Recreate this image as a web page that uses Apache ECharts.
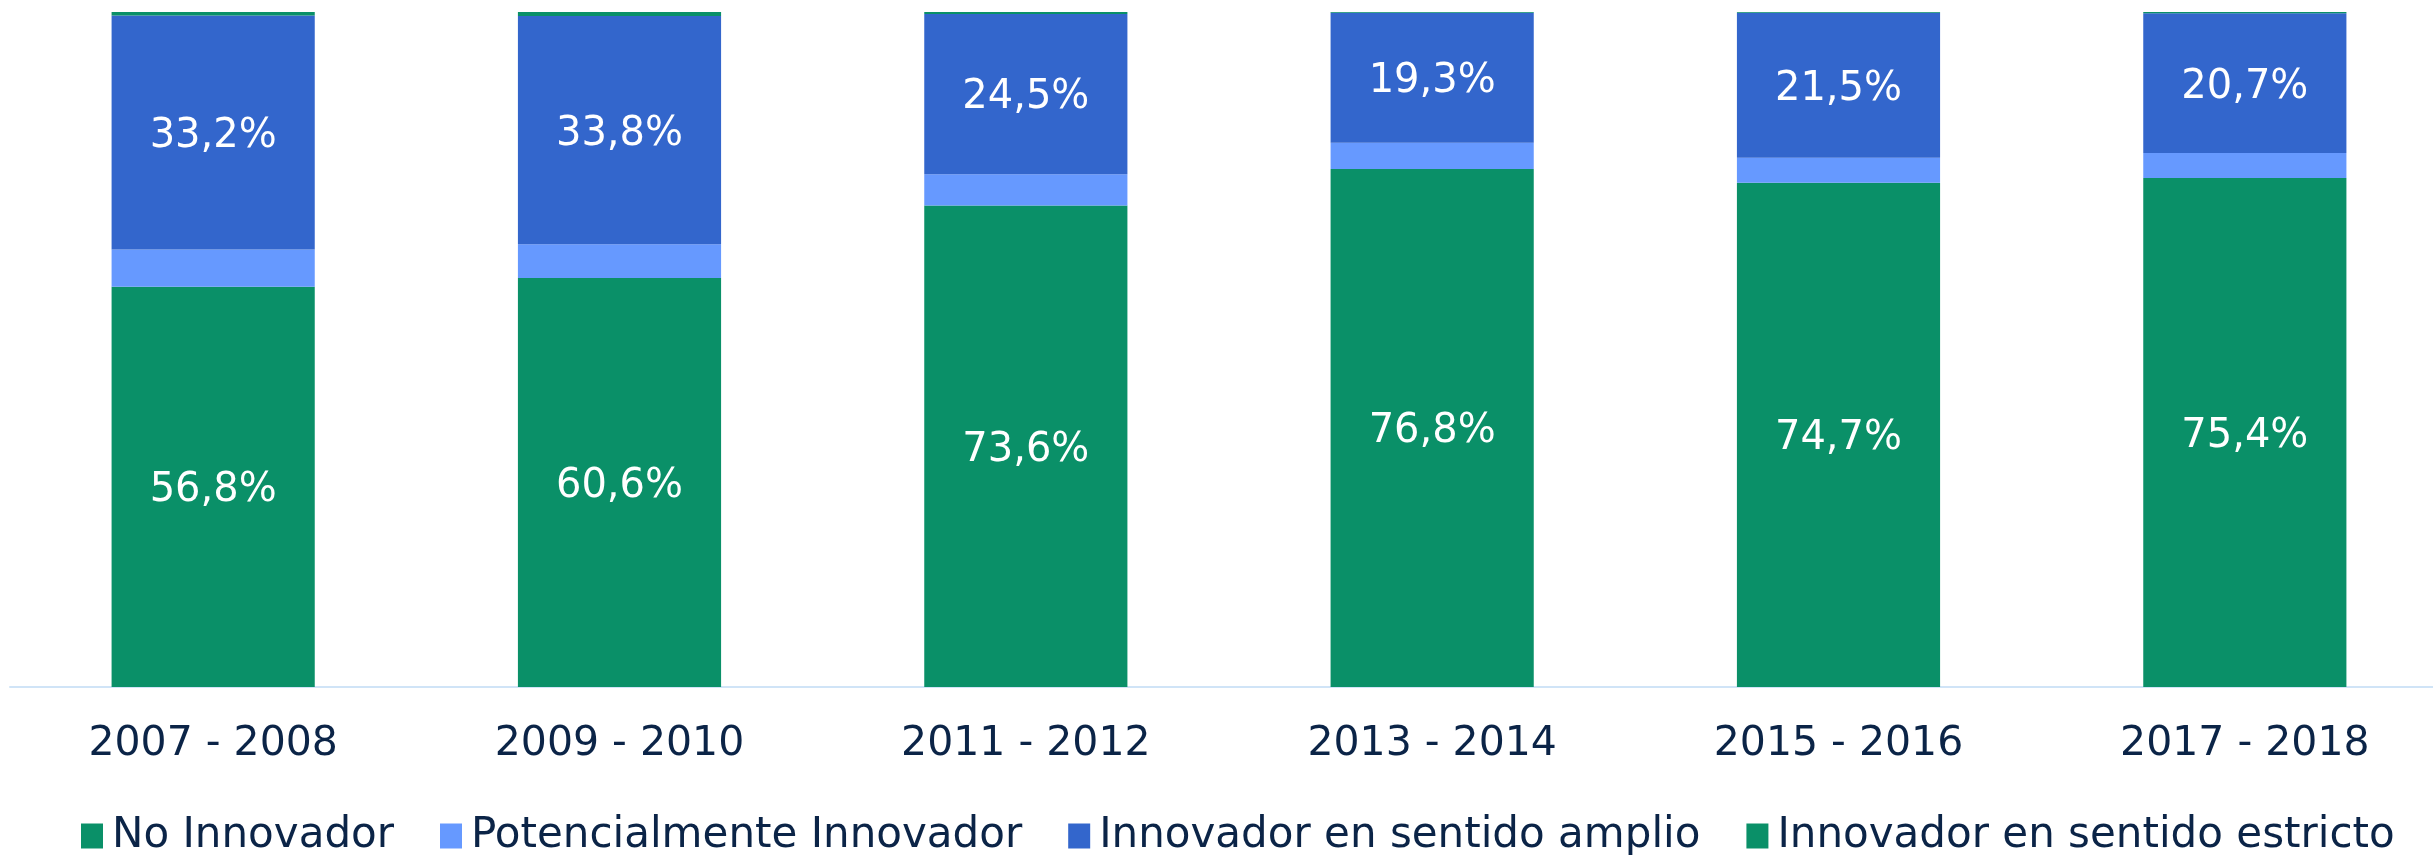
<!DOCTYPE html>
<html>
<head>
<meta charset="utf-8">
<script src="https://cdn.jsdelivr.net/npm/echarts@6/dist/echarts.min.js"></script>
<style>
  html, body { margin: 0; padding: 0; background: #fff; }
  #chart { width: 2433px; height: 855px; }
</style>
</head>
<body>
<div id="chart"></div>
<script>
var periodos = ['2007 - 2008', '2009 - 2010', '2011 - 2012', '2013 - 2014', '2015 - 2016', '2017 - 2018'];
var noInnovador = [56.8, 60.6, 73.6, 76.8, 74.7, 75.4];
var potencial = [5.3, 5.0, 4.8, 3.9, 3.7, 3.7];
var amplio = [33.2, 33.8, 24.5, 19.3, 21.5, 20.7];
var estricto = [0.5, 0.6, 0.3, 0.1, 0.1, 0.2];

var nombres = ['No Innovador', 'Potencialmente Innovador', 'Innovador en sentido amplio', 'Innovador en sentido estricto'];
var colores = ['#0a9068', '#6699ff', '#3366cc', '#0a9068'];
var textColor = '#0b2447';
var fuente = 'DejaVu Sans';

// 100% stacked: each bar is normalised to its own total
var totales = periodos.map(function (p, i) {
  return noInnovador[i] + potencial[i] + amplio[i] + estricto[i];
});

function serie(nombre, valores, idx, conEtiqueta) {
  return {
    name: nombre,
    type: 'bar',
    stack: 'total',
    barWidth: '50%',
    itemStyle: { color: colores[idx] },
    label: {
      show: conEtiqueta,
      position: 'inside',
      color: '#fff',
      fontFamily: fuente,
      fontSize: 40,
      offset: [0, 4],
      formatter: function (p) {
        return valores[p.dataIndex].toFixed(1).replace('.', ',') + '%';
      }
    },
    data: valores.map(function (v, i) { return v / totales[i] * 100; })
  };
}

var myChart = echarts.init(document.getElementById('chart'));
var option = {
  animation: false,
  grid: { left: 10, right: -15, top: 12, bottom: 168, outerBoundsMode: 'none' },
  legend: {
    data: nombres,
    left: 76,
    top: 810,
    itemWidth: 22,
    itemHeight: 25,
    itemGap: 46,
    icon: 'rect',
    textStyle: { color: textColor, fontFamily: fuente, fontSize: 42, padding: [0, 0, 0, 4] }
  },
  xAxis: {
    type: 'category',
    data: periodos,
    axisLine: { lineStyle: { color: '#d0e4f7', width: 2 } },
    axisTick: { show: false },
    axisLabel: { color: textColor, fontFamily: fuente, fontSize: 41, margin: 37 }
  },
  yAxis: {
    type: 'value',
    min: 0,
    max: 100,
    show: false
  },
  series: [
    serie(nombres[0], noInnovador, 0, true),
    serie(nombres[1], potencial, 1, false),
    serie(nombres[2], amplio, 2, true),
    serie(nombres[3], estricto, 3, false)
  ]
};
myChart.setOption(option);
</script>
</body>
</html>
